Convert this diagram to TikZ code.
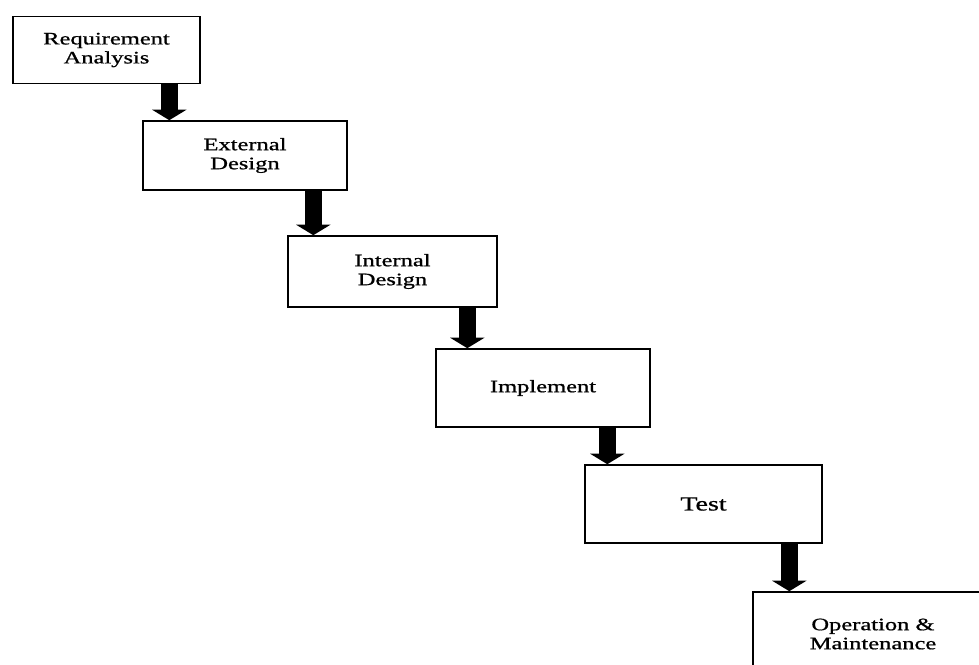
\documentclass[tikz,border=0pt]{standalone}
\usepackage{fontspec}
\setmainfont{Liberation Serif}
\newfontfamily\stagefont[FakeStretch=1.4, FakeBold=0.9]{Liberation Serif}
\usetikzlibrary{positioning, calc, arrows.meta}

\tikzset{
    stage/.style={draw, line width=1.6pt, fill=white, align=center, inner sep=0pt,
        font=\stagefont\fontsize{17.5}{19}\selectfont},
    flow/.style={line width=17.5pt, -{Triangle[width=34pt, length=10.5pt]}}
}

\begin{document}
\begin{tikzpicture}[x=1pt, y=-1pt]
    % Page frame
    \clip (0,0) rectangle (979,664);
    \fill[white] (0,0) rectangle (979,664);

    % Stages of the waterfall
    \node[stage, minimum width=187pt, minimum height=67pt] (req) at (106.5,50) {Requirement\\Analysis};
    \node[stage, minimum width=204pt, minimum height=69pt] (ext) at (245,155.5) {External\\Design};
    \node[stage, minimum width=209pt, minimum height=71pt] (int) at (392.5,271.5) {Internal\\Design};
    \node[stage, minimum width=214pt, minimum height=78pt] (impl) at (543,388) {Implement};
    \node[stage, minimum width=237pt, minimum height=78pt,
        font=\stagefont\fontsize{20}{21}\selectfont] (test) at (703.5,504) {Test};
    \node[stage, minimum width=240pt, minimum height=84pt] (ops) at (873,634) {Operation \&\\Maintenance};

    % Arrows between stages
    \draw[flow] ([xshift=-31.5pt]req.south east) -- ([xshift=-31.5pt]req.south east |- ext.north);
    \draw[flow] ([xshift=-34.5pt]ext.south east) -- ([xshift=-34.5pt]ext.south east |- int.north);
    \draw[flow] ([xshift=-30.5pt]int.south east) -- ([xshift=-30.5pt]int.south east |- impl.north);
    \draw[flow] ([xshift=-43.5pt]impl.south east) -- ([xshift=-43.5pt]impl.south east |- test.north);
    \draw[flow] ([xshift=-33.5pt]test.south east) -- ([xshift=-33.5pt]test.south east |- ops.north);

\end{tikzpicture}
\end{document}
